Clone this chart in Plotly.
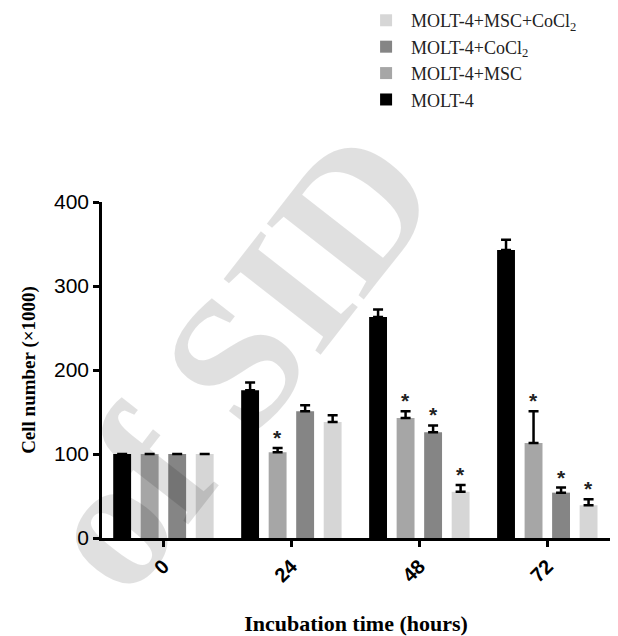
import plotly.graph_objects as go

times = ["0", "24", "48", "72"]
series_names = ["MOLT-4", "MOLT-4+MSC", "MOLT-4+CoCl<sub>2</sub>", "MOLT-4+MSC+CoCl<sub>2</sub>"]
molt4 = [100, 176, 263, 343]
molt4_msc = [100, 102, 143, 113]
molt4_cocl2 = [100, 151, 126, 54]
molt4_msc_cocl2 = [100, 138, 55, 39]
err_molt4 = [0, 9, 9, 12]
err_msc = [0, 5, 8, 38]
err_cocl2 = [0, 7, 8, 6]
err_msc_cocl2 = [0, 8, 8, 7]
# significance markers (1 = star)
sig_msc = [0, 1, 1, 1]
sig_cocl2 = [0, 0, 1, 1]
sig_msc_cocl2 = [0, 0, 1, 1]
sig_molt4 = [0, 0, 0, 0]

colors = ["#000000", "#a6a6a6", "#858585", "#d6d6d6"]
values = [molt4, molt4_msc, molt4_cocl2, molt4_msc_cocl2]
errors = [err_molt4, err_msc, err_cocl2, err_msc_cocl2]
sigs = [sig_molt4, sig_msc, sig_cocl2, sig_msc_cocl2]

fig = go.Figure()
for name, vals, errs, col in zip(series_names, values, errors, colors):
    fig.add_trace(go.Bar(
        x=times, y=vals, name=name, marker=dict(color=col, line=dict(width=0)),
        error_y=dict(type="data", array=errs, arrayminus=[0] * len(errs), symmetric=False,
                     color="black", thickness=2.5, width=5, visible=True),
    ))

# watermark
fig.add_annotation(text="<b>of SID</b>", x=0.265, y=0.53, xref="paper", yref="paper",
                   xanchor="center", yanchor="middle",
                   showarrow=False, textangle=-52,
                   font=dict(family="Liberation Serif", size=188, color="rgba(0,0,0,0.12)"))

bar_pitch = 27.5
for j, (vals, errs, sg) in enumerate(zip(values, errors, sigs)):
    for i, t in enumerate(times):
        if sg[i]:
            fig.add_annotation(x=i, y=vals[i] + errs[i], xref="x", yref="y", text="<b>*</b>",
                               showarrow=False, xshift=(j - 1.5) * bar_pitch, yshift=-3,
                               yanchor="bottom",
                               font=dict(family="Liberation Sans", size=21, color="#222"))

fig.update_layout(
    width=610, height=628,
    margin=dict(l=94, r=8, t=194, b=98, autoexpand=False),
    paper_bgcolor="white", plot_bgcolor="white",
    barmode="group", bargap=0.14, bargroupgap=0.35,
    showlegend=True,
    legend=dict(x=0.51, y=1.595, xanchor="left", yanchor="top", traceorder="reversed",
                font=dict(family="Liberation Serif", size=18, color="#222"),
                bgcolor="rgba(0,0,0,0)", tracegroupgap=0, itemwidth=40),
    xaxis=dict(
        type="category", range=[-0.48, 3.49], automargin=False,
        showline=True, linecolor="black", linewidth=2.5,
        ticks="outside", ticklen=6, tickwidth=2.5, tickcolor="black",
        tickangle=-45, tickfont=dict(family="Liberation Sans", size=20, color="black"),
        title=dict(text="<b>Incubation time (hours)</b>", standoff=32,
                   font=dict(family="Liberation Serif", size=22, color="black")),
        showgrid=False, zeroline=False,
    ),
    yaxis=dict(
        range=[0, 400], tickvals=[0, 100, 200, 300, 400], automargin=False,
        showline=True, linecolor="black", linewidth=2.5,
        ticks="outside", ticklen=6, tickwidth=2.5, tickcolor="black",
        tickfont=dict(family="Liberation Sans", size=21, color="black"),
        title=dict(text="<b>Cell number (×1000)</b>", standoff=14,
                   font=dict(family="Liberation Serif", size=19, color="black")),
        showgrid=False, zeroline=False,
    ),
    font=dict(family="Liberation Sans"),
)
fig.update_xaxes(tickprefix="<b>", ticksuffix="</b>")
fig.update_yaxes(tickprefix="<b>", ticksuffix="</b>")

fig.write_html("out.html")
